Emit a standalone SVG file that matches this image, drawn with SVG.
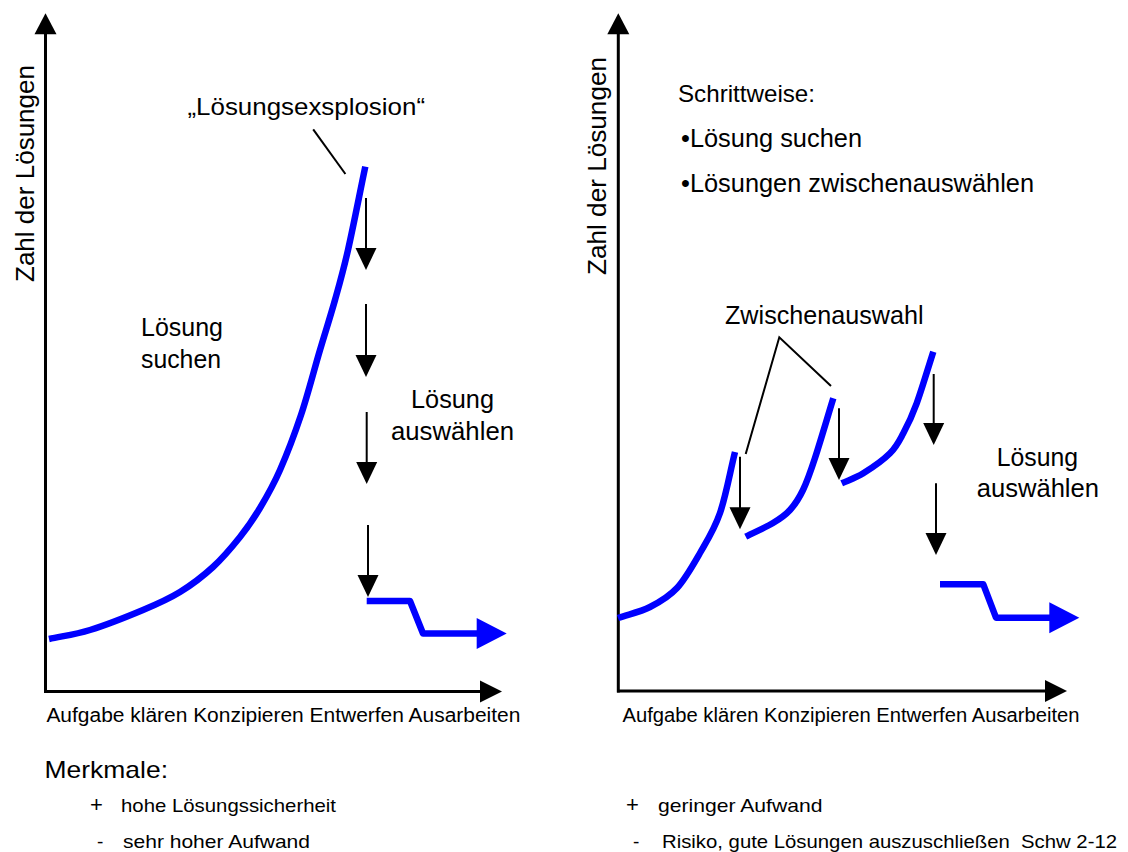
<svg xmlns="http://www.w3.org/2000/svg" xmlns:xlink="http://www.w3.org/1999/xlink" width="1128" height="852" viewBox="0 0 1128 852">
<style>
text{font-family:"Liberation Sans",Arial,sans-serif;fill:#000}
.axis{stroke:#000;stroke-width:3;fill:none}
.arr{stroke:#000;stroke-width:2;fill:none}
.lead{stroke:#000;stroke-width:2;fill:none}
.blue{stroke:#0000ff;stroke-width:6.5;fill:none;stroke-linejoin:round;stroke-linecap:butt}
.lbl{font-size:25px}
.ax{font-size:20px}
.sm{font-size:19px}
</style>
<defs>
<path id="downhead" d="M-10.5,-22 L10.5,-22 L0,0 Z" fill="#000"/>
<path id="uphead" d="M-11,21 L11,21 L0,0 Z" fill="#000"/>
<path id="righthead" d="M-22,-11 L-22,11 L0,0 Z" fill="#000"/>
<path id="bluehead" d="M-30,-15.5 L-30,15.5 L0,0 Z" fill="#0000ff"/>
</defs>
<rect width="1128" height="852" fill="#fff"/>

<g id="left-chart">
  <g id="left-axes">
    <line class="axis" x1="45.5" y1="693" x2="45.5" y2="30"/>
    <use xlink:href="#uphead" href="#uphead" x="45.5" y="13.3"/>
    <line class="axis" x1="44" y1="691.5" x2="485" y2="691.5"/>
    <use xlink:href="#righthead" href="#righthead" x="502" y="691.5"/>
    <text transform="translate(34,282) rotate(-90)" font-size="26" textLength="217" lengthAdjust="spacingAndGlyphs">Zahl der Lösungen</text>
    <text class="ax" x="46.4" y="721.7" textLength="474" lengthAdjust="spacingAndGlyphs">Aufgabe klären Konzipieren Entwerfen Ausarbeiten</text>
  </g>
  <g id="left-curve">
    <path class="blue" d="M49,639 C62.7,636 74.3,634.8 90,630 C105.7,625.2 128,616.3 143,610 C158,603.7 168.3,599.2 180,592 C191.7,584.8 203,576.2 213,567 C223,557.8 232.2,546.8 240,537 C247.8,527.2 253.3,519.2 260,508 C266.7,496.8 273.2,485.5 280,470 C286.8,454.5 294.3,435 301,415 C307.7,395 314.3,369.2 320,350 C325.7,330.8 330.3,316.7 335,300 C339.7,283.3 342.95,272.2 348,250 C353.05,227.8 359.5,194.5 365.3,166.7"/>
    <polyline class="blue" points="366.7,601 410,601 423,633.5 480,633.5"/>
    <use xlink:href="#bluehead" href="#bluehead" x="506.7" y="633.5"/>
  </g>
  <g id="left-labels">
    <text x="187.5" y="115" font-size="24" textLength="237.5" lengthAdjust="spacingAndGlyphs">„Lösungsexsplosion“</text>
    <text class="lbl" x="141" y="336" textLength="82" lengthAdjust="spacingAndGlyphs">Lösung</text>
    <text class="lbl" x="141" y="368" textLength="80" lengthAdjust="spacingAndGlyphs">suchen</text>
    <text class="lbl" x="411" y="408" textLength="83" lengthAdjust="spacingAndGlyphs">Lösung</text>
    <text class="lbl" x="391" y="440" textLength="123" lengthAdjust="spacingAndGlyphs">auswählen</text>
  </g>
</g>

<g id="right-chart">
  <g id="right-axes">
    <line class="axis" x1="618.3" y1="692.5" x2="618.3" y2="30"/>
    <use xlink:href="#uphead" href="#uphead" x="618.3" y="13.3"/>
    <line class="axis" x1="617" y1="691" x2="1050" y2="691"/>
    <use xlink:href="#righthead" href="#righthead" x="1067" y="691"/>
    <text transform="translate(606,275) rotate(-90)" font-size="26" textLength="218" lengthAdjust="spacingAndGlyphs">Zahl der Lösungen</text>
    <text class="ax" x="622.5" y="721.7" textLength="457" lengthAdjust="spacingAndGlyphs">Aufgabe klären Konzipieren Entwerfen Ausarbeiten</text>
  </g>
  <g id="right-curves">
    <path class="blue" d="M618,618 C628.7,614.3 640.2,612 650,607 C659.8,602 668.7,597 677,588 C685.3,579 692.8,565.5 700,553 C707.2,540.5 714.2,529.8 720,513 C725.8,496.2 730,472.3 735,452"/>
    <path class="blue" d="M745.7,536.7 C754.8,532.1 765.6,527.45 773,523 C780.4,518.55 785,515.5 790,510 C795,504.5 798.8,498.7 803,490 C807.2,481.3 810,473.3 815,458 C820,442.7 827.2,418.2 833.3,398.3"/>
    <path class="blue" d="M841.7,483.3 C848.9,480 855.25,478.3 863.3,473.3 C871.35,468.3 883.3,460 890,453.3 C896.7,446.6 898.85,441.6 903.3,433.3 C907.75,425 911.7,416.9 916.7,403.3 C921.7,389.7 927.8,368.9 933.3,351.7"/>
    <polyline class="blue" points="940,584.3 983.3,584.3 996,617.7 1053,617.7"/>
    <use xlink:href="#bluehead" href="#bluehead" x="1079.3" y="617.7"/>
  </g>
  <g id="right-labels">
    <text x="678" y="101.7" font-size="24" textLength="137" lengthAdjust="spacingAndGlyphs">Schrittweise:</text>
    <text class="lbl" x="681" y="146.7" textLength="181" lengthAdjust="spacingAndGlyphs">•Lösung suchen</text>
    <text class="lbl" x="681" y="191.7" textLength="353" lengthAdjust="spacingAndGlyphs">•Lösungen zwischenauswählen</text>
    <text class="lbl" x="725" y="324" textLength="198.6" lengthAdjust="spacingAndGlyphs">Zwischenauswahl</text>
    <text class="lbl" x="996.7" y="465.7" textLength="81.3" lengthAdjust="spacingAndGlyphs">Lösung</text>
    <text class="lbl" x="976.7" y="497" textLength="122.3" lengthAdjust="spacingAndGlyphs">auswählen</text>
  </g>
</g>

<g id="connectors">
  <line class="lead" x1="313.2" y1="129.3" x2="345.4" y2="174"/>
  <polyline class="lead" points="745.7,454 779.3,337.3 831,386"/>
  <line class="arr" x1="366" y1="198" x2="366" y2="250"/>
  <use xlink:href="#downhead" href="#downhead" x="366" y="270"/>
  <line class="arr" x1="366" y1="304" x2="366" y2="357"/>
  <use xlink:href="#downhead" href="#downhead" x="366" y="377"/>
  <line class="arr" x1="366.7" y1="412" x2="366.7" y2="464"/>
  <use xlink:href="#downhead" href="#downhead" x="366.7" y="484"/>
  <line class="arr" x1="368" y1="525" x2="368" y2="577"/>
  <use xlink:href="#downhead" href="#downhead" x="368" y="597"/>
  <line class="arr" x1="740" y1="456.7" x2="740" y2="509"/>
  <use xlink:href="#downhead" href="#downhead" x="740" y="529.3"/>
  <line class="arr" x1="839" y1="408.3" x2="839" y2="460"/>
  <use xlink:href="#downhead" href="#downhead" x="839" y="480"/>
  <line class="arr" x1="933.7" y1="374" x2="933.7" y2="425"/>
  <use xlink:href="#downhead" href="#downhead" x="933.7" y="445"/>
  <line class="arr" x1="936" y1="483.3" x2="936" y2="535"/>
  <use xlink:href="#downhead" href="#downhead" x="936" y="555"/>
</g>

<g id="merkmale">
  <text x="44.6" y="778" font-size="24" textLength="123.4" lengthAdjust="spacingAndGlyphs">Merkmale:</text>
  <text x="90" y="812" font-size="22">+</text>
  <text class="sm" x="121" y="811.7" textLength="215" lengthAdjust="spacingAndGlyphs">hohe Lösungssicherheit</text>
  <text class="sm" x="97" y="848">-</text>
  <text class="sm" x="123" y="848" textLength="187" lengthAdjust="spacingAndGlyphs">sehr hoher Aufwand</text>
  <text x="626" y="812" font-size="22">+</text>
  <text class="sm" x="658" y="811.7" textLength="164.5" lengthAdjust="spacingAndGlyphs">geringer Aufwand</text>
  <text class="sm" x="633" y="848">-</text>
  <text class="sm" x="662" y="848" textLength="455" lengthAdjust="spacingAndGlyphs" style="white-space:pre">Risiko, gute Lösungen auszuschließen  Schw 2-12</text>
</g>
</svg>
